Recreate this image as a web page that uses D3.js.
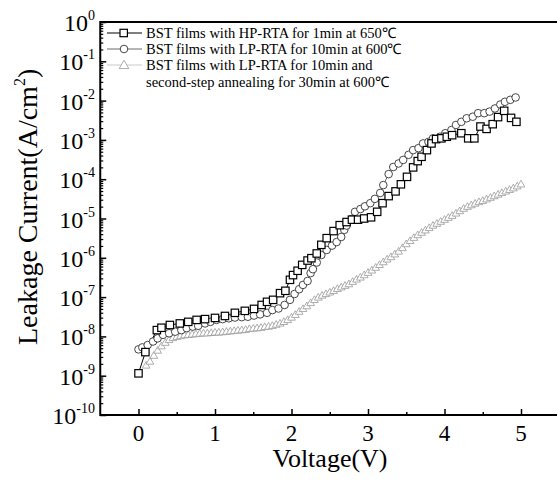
<!DOCTYPE html>
<html>
<head>
<meta charset="utf-8">
<script src="https://cdn.jsdelivr.net/npm/d3@7"></script>
<style>
  body { margin: 0; background: #fff; }
  svg { display: block; }
  text { font-family: "Liberation Serif", "Times New Roman", serif; fill: #000; }
</style>
</head>
<body>
<div id="chart"></div>
<script>
// HP-RTA 1min 650C (squares)
var hpV = [0.00,0.09,0.24,0.30,0.41,0.54,0.65,0.76,0.87,1.00,1.13,1.26,1.39,1.51,1.61,1.68,1.76,1.85,1.92,1.98,
           2.02,2.08,2.14,2.21,2.26,2.33,2.39,2.46,2.55,2.63,2.72,2.79,2.87,2.95,3.04,3.12,3.19,3.27,3.36,3.43,
           3.51,3.59,3.65,3.70,3.77,3.83,3.89,3.96,4.03,4.10,4.22,4.31,4.39,4.47,4.55,4.63,4.70,4.78,4.87,4.94];
var hpLog = [-8.94,-8.40,-7.84,-7.78,-7.71,-7.67,-7.63,-7.58,-7.56,-7.53,-7.48,-7.40,-7.35,-7.30,-7.20,-7.12,-7.07,-6.90,-6.84,-6.56,
             -6.44,-6.33,-6.18,-6.07,-6.01,-5.89,-5.67,-5.50,-5.32,-5.17,-5.09,-5.03,-5.03,-5.00,-4.97,-4.83,-4.61,-4.43,-4.31,-4.13,
             -3.94,-3.70,-3.54,-3.43,-3.26,-3.09,-2.98,-2.96,-2.92,-2.88,-2.83,-2.96,-2.96,-2.66,-2.72,-2.60,-2.42,-2.26,-2.44,-2.54];

// LP-RTA 10min 600C (circles)
var lpV = [0.00,0.05,0.12,0.19,0.25,0.32,0.40,0.48,0.56,0.63,0.71,0.78,0.87,0.94,1.02,1.10,1.18,1.26,1.35,1.43,
           1.51,1.59,1.68,1.75,1.83,1.91,1.98,2.04,2.10,2.15,2.21,2.25,2.28,2.33,2.39,2.46,2.53,2.59,2.65,2.69,
           2.72,2.79,2.83,2.90,2.96,3.03,3.09,3.16,3.20,3.27,3.33,3.40,3.46,3.53,3.59,3.66,3.72,3.79,3.85,3.94,
           4.01,4.09,4.15,4.22,4.29,4.37,4.44,4.52,4.59,4.66,4.73,4.79,4.86,4.93];
var lpLog = [-8.33,-8.28,-8.22,-8.13,-8.05,-7.96,-7.92,-7.88,-7.84,-7.79,-7.75,-7.73,-7.67,-7.63,-7.58,-7.56,-7.54,-7.52,-7.51,-7.50,
             -7.47,-7.44,-7.40,-7.33,-7.29,-7.20,-7.07,-6.92,-6.80,-6.69,-6.59,-6.39,-6.29,-6.12,-5.93,-5.80,-5.69,-5.60,-5.47,-5.29,
             -5.18,-5.01,-4.83,-4.76,-4.69,-4.61,-4.50,-4.35,-4.15,-3.87,-3.69,-3.60,-3.51,-3.38,-3.26,-3.21,-3.09,-3.05,-2.96,-2.92,
             -2.83,-2.75,-2.62,-2.54,-2.45,-2.41,-2.32,-2.32,-2.28,-2.20,-2.10,-2.03,-1.98,-1.92];

// LP-RTA 10min + second-step annealing 30min 600C (triangles)
var twoV = [0.10,0.15,0.20,0.25,0.30,0.35,0.40,0.45,0.50,0.55,0.60,0.65,0.70,0.75,0.80,0.85,0.90,0.95,1.00,1.05,
            1.10,1.15,1.20,1.25,1.30,1.35,1.40,1.45,1.50,1.55,1.60,1.65,1.70,1.75,1.80,1.85,1.90,1.95,2.00,2.05,
            2.10,2.15,2.20,2.25,2.30,2.35,2.40,2.45,2.50,2.55,2.60,2.65,2.70,2.75,2.80,2.85,2.90,2.95,3.00,3.05,
            3.10,3.15,3.20,3.25,3.30,3.35,3.40,3.45,3.50,3.55,3.60,3.65,3.70,3.75,3.80,3.85,3.90,3.95,4.00,4.05,
            4.10,4.15,4.20,4.25,4.30,4.35,4.40,4.45,4.50,4.55,4.60,4.65,4.70,4.75,4.80,4.85,4.90,4.95,5.00];
var twoLog = [-8.73,-8.63,-8.48,-8.35,-8.24,-8.15,-8.08,-8.03,-8.00,-7.98,-7.96,-7.95,-7.94,-7.93,-7.92,-7.91,-7.91,-7.90,-7.89,-7.89,
              -7.88,-7.87,-7.86,-7.85,-7.84,-7.83,-7.82,-7.80,-7.79,-7.78,-7.77,-7.75,-7.74,-7.72,-7.69,-7.66,-7.62,-7.57,-7.51,-7.44,
              -7.36,-7.29,-7.22,-7.14,-7.06,-7.00,-6.95,-6.91,-6.87,-6.83,-6.78,-6.74,-6.70,-6.66,-6.60,-6.54,-6.49,-6.43,-6.37,-6.31,
              -6.24,-6.17,-6.10,-6.03,-5.97,-5.90,-5.83,-5.74,-5.64,-5.56,-5.48,-5.41,-5.35,-5.29,-5.23,-5.17,-5.12,-5.07,-5.02,-4.97,
              -4.92,-4.86,-4.80,-4.74,-4.69,-4.65,-4.61,-4.57,-4.54,-4.50,-4.46,-4.42,-4.38,-4.34,-4.30,-4.26,-4.22,-4.17,-4.12];

var xTicks = [0, 1, 2, 3, 4, 5];
var xMinor = [0.5, 1.5, 2.5, 3.5, 4.5];
var yExp = [0, -1, -2, -3, -4, -5, -6, -7, -8, -9, -10];

var legendLabels = [
    ["BST films with HP-RTA for 1min at 650\u2103"],
    ["BST films with LP-RTA for 10min at 600\u2103"],
    ["BST films with LP-RTA for 10min and", "second-step annealing for 30min at 600\u2103"]
];

var W = 557, H = 486;
var svg = d3.select("#chart").append("svg")
    .attr("width", W)
    .attr("height", H)
    .attr("font-family", "'Liberation Serif', 'Times New Roman', serif");

var x = d3.scaleLinear().domain([-0.5, 5.5]).range([100.25, 559.25]);
var y = d3.scaleLog().domain([1e-10, 1]).range([415, 22]);

function toPts(vs, ls) {
    return vs.map(function(v, i) { return { v: v, i: Math.pow(10, ls[i]) }; });
}
var hp = toPts(hpV, hpLog);
var lp = toPts(lpV, lpLog);
var two = toPts(twoV, twoLog);

var minorVals = [];
yExp.forEach(function(e) {
    if (e == 0) return;
    for (var k = 2; k <= 9; k++) minorVals.push(k * Math.pow(10, e));
});

// y ticks (inward)
svg.append("g")
    .attr("transform", "translate(" + x(-0.5) + ",0)")
    .call(d3.axisRight(y).tickValues(minorVals).tickSize(3).tickFormat(""))
    .call(function(g) { g.select(".domain").remove(); g.selectAll("line").attr("stroke-width", 1.2); });
svg.append("g")
    .attr("transform", "translate(" + x(-0.5) + ",0)")
    .call(d3.axisRight(y).tickValues(yExp.map(function(e) { return Math.pow(10, e); })).tickSize(6).tickFormat(""))
    .call(function(g) { g.select(".domain").remove(); g.selectAll("line").attr("stroke-width", 1.5); });

// x ticks (inward)
svg.append("g")
    .attr("transform", "translate(0," + y(1e-10) + ")")
    .call(d3.axisTop(x).tickValues(xMinor).tickSize(3).tickFormat(""))
    .call(function(g) { g.select(".domain").remove(); g.selectAll("line").attr("stroke-width", 1.5); });
svg.append("g")
    .attr("transform", "translate(0," + y(1e-10) + ")")
    .call(d3.axisTop(x).tickValues(xTicks).tickSize(6).tickFormat(""))
    .call(function(g) { g.select(".domain").remove(); g.selectAll("line").attr("stroke-width", 1.5); });

// frame
svg.append("rect")
    .attr("x", x(-0.5))
    .attr("y", y(1))
    .attr("width", x(5.5) - x(-0.5))
    .attr("height", y(1e-10) - y(1))
    .attr("fill", "none")
    .attr("stroke", "#000")
    .attr("stroke-width", 2);

// tick labels
svg.append("g").selectAll("text")
    .data(xTicks)
    .enter().append("text")
    .attr("x", function(d) { return x(d); })
    .attr("y", 441)
    .attr("text-anchor", "middle")
    .attr("font-size", 23)
    .text(function(d) { return d; });

var yl = svg.append("g").selectAll("text")
    .data(yExp)
    .enter().append("text")
    .attr("x", 95)
    .attr("y", function(d) { return y(Math.pow(10, d)) + 9; })
    .attr("text-anchor", "end")
    .attr("font-size", 24);
yl.append("tspan").text("10");
yl.append("tspan").attr("dy", -11).attr("font-size", 14).text(function(d) { return d; });

// axis titles
svg.append("text")
    .attr("x", 330)
    .attr("y", 467)
    .attr("text-anchor", "middle")
    .attr("font-size", 26)
    .text("Voltage(V)");

var yt = svg.append("text")
    .attr("transform", "translate(37,345) rotate(-90)")
    .attr("text-anchor", "start")
    .attr("font-size", 28);
yt.append("tspan").text("Leakage Current(A/cm");
yt.append("tspan").attr("dy", -12).attr("font-size", 16).text("2");
yt.append("tspan").attr("dy", 12).text(")");

// series
var line = d3.line()
    .x(function(d) { return x(d.v); })
    .y(function(d) { return y(d.i); });

svg.append("path").datum(two)
    .attr("d", line).attr("fill", "none").attr("stroke", "#bbb").attr("stroke-width", 0.8);
svg.append("g").selectAll("path")
    .data(two)
    .enter().append("path")
    .attr("transform", function(d) { return "translate(" + x(d.v) + "," + (y(d.i) + 0.8) + ")"; })
    .attr("d", d3.symbol().type(d3.symbolTriangle).size(26))
    .attr("fill", "#fff")
    .attr("stroke", "#999")
    .attr("stroke-width", 0.8);

svg.append("path").datum(hp)
    .attr("d", line).attr("fill", "none").attr("stroke", "#000").attr("stroke-width", 1);
svg.append("path").datum(lp)
    .attr("d", line).attr("fill", "none").attr("stroke", "#444").attr("stroke-width", 0.8);

svg.append("g").selectAll("circle")
    .data(lp)
    .enter().append("circle")
    .attr("cx", function(d) { return x(d.v); })
    .attr("cy", function(d) { return y(d.i); })
    .attr("r", 3.8)
    .attr("fill", "#fff")
    .attr("stroke", "#333")
    .attr("stroke-width", 0.9);

svg.append("g").selectAll("rect")
    .data(hp)
    .enter().append("rect")
    .attr("x", function(d) { return x(d.v) - 3.7; })
    .attr("y", function(d) { return y(d.i) - 3.7; })
    .attr("width", 7.4)
    .attr("height", 7.4)
    .attr("fill", "#fff")
    .attr("stroke", "#000")
    .attr("stroke-width", 1.2);

// legend
var legY = [33, 49, 65];
var leg = svg.append("g");
leg.append("line").attr("x1", 107).attr("x2", 142).attr("y1", legY[0]).attr("y2", legY[0]).attr("stroke", "#000").attr("stroke-width", 1);
leg.append("rect").attr("x", 120).attr("y", legY[0] - 3.7).attr("width", 7.4).attr("height", 7.4)
    .attr("fill", "#fff").attr("stroke", "#000").attr("stroke-width", 1.2);
leg.append("line").attr("x1", 107).attr("x2", 142).attr("y1", legY[1]).attr("y2", legY[1]).attr("stroke", "#444").attr("stroke-width", 0.8);
leg.append("circle").attr("cx", 124).attr("cy", legY[1]).attr("r", 3.8)
    .attr("fill", "#fff").attr("stroke", "#333").attr("stroke-width", 0.9);
leg.append("line").attr("x1", 107).attr("x2", 142).attr("y1", legY[2]).attr("y2", legY[2]).attr("stroke", "#bbb").attr("stroke-width", 0.8);
leg.append("path").attr("transform", "translate(124," + (legY[2] + 0.8) + ")")
    .attr("d", d3.symbol().type(d3.symbolTriangle).size(40))
    .attr("fill", "#fff").attr("stroke", "#999").attr("stroke-width", 0.8);

legendLabels.forEach(function(lines, i) {
    lines.forEach(function(s, j) {
        leg.append("text")
            .attr("x", 146)
            .attr("y", legY[i] + 5 + j * 16.5)
            .attr("font-size", 14.5)
            .text(s);
    });
});
</script>
</body>
</html>
